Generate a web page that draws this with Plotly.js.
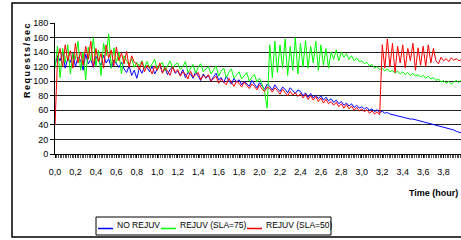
<!DOCTYPE html>
<html>
<head>
<meta charset="utf-8">
<script src="https://cdn.plot.ly/plotly-3.0.1.min.js"></script>
<style>
  html, body { margin: 0; padding: 0; background: #fff; }
  #chart { width: 461px; height: 240px; }
</style>
</head>
<body>
<div id="chart"></div>
<script>
// ---- data ----
const timeStep = 0.025; // hours between samples
const seriesNames = ["NO REJUV", "REJUV (SLA=75)", "REJUV (SLA=50)"];
const seriesColors = ["#0000ff", "#00ff00", "#ff0000"];
const xTickVals = [0,0.2,0.4,0.6,0.8,1.0,1.2,1.4,1.6,1.8,2.0,2.2,2.4,2.6,2.8,3.0,3.2,3.4,3.6,3.8];
const xTickText = ["0,0","0,2","0,4","0,6","0,8","1,0","1,2","1,4","1,6","1,8","2,0","2,2","2,4","2,6","2,8","3,0","3,2","3,4","3,6","3,8"];
const yTickVals = [0,20,40,60,80,100,120,140,160,180];

const noRejuv = [
  122,135,128,140,118,131,126,138,120,133,129,115,137,124,130,119,134,127,122,136,125,131,118,129,
  123,119,126,117,112,121,108,115,104,118,111,120,
  119,113,121,110,117,122,112,118,109,116,120,111,
  114,108,116,105,112,110,104,113,107,101,110,104,
  108,100,106,111,102,105,98,107,101,96,104,99,
  102,95,100,97,93,101,96,91,98,94,89,96,
  93,88,95,90,86,92,89,84,91,87,83,88,
  86,80,84,78,83,77,81,76,80,74,78,73,
  76,71,74,69,72,67,70,66,69,64,67,63,
  65,62,64,60,62,58,61,57,59,56,57,55,
  54,53,53,51,51,50,49,48,48,47,46,45,
  45,44,43,42,41,40,39,38,37,36,35,34,33,31,30,29
];
const rejuv75 = [
  118,148,105,145,125,150,110,138,130,155,115,140,102,147,128,160,120,143,108,152,135,165,118,146,125,140,110,135,
  128,122,131,119,126,121,128,118,
  127,118,124,130,116,122,126,114,121,128,117,123,
  125,116,120,127,112,118,123,111,119,124,113,117,
  120,110,116,121,107,114,118,105,112,117,104,109,
  113,103,108,112,100,106,109,99,104,96,85,63,
  150,105,155,112,150,118,158,108,148,115,160,110,
  152,120,156,118,148,125,155,115,150,122,145,118,
  140,130,143,128,140,133,138,130,135,128,132,127,
  128,124,126,121,123,118,120,116,118,114,117,113,
  115,111,114,110,113,109,112,108,111,107,109,106,
  108,104,107,103,105,101,103,99,101,97,100,96,99,101,98,102
];
const rejuv50 = [
  40,132,145,120,150,128,142,118,152,125,140,122,148,130,155,120,145,127,138,118,150,132,143,121,147,128,139,124,141,119,135,126,
  124,116,127,113,122,118,110,121,115,125,111,119,114,108,120,112,
  116,107,113,110,103,114,106,109,112,102,108,105,
  109,100,104,107,97,103,99,95,104,98,93,100,
  97,92,99,94,90,96,93,88,95,89,86,92,
  90,85,91,87,82,89,84,80,86,81,84,79,
  83,77,82,75,80,74,79,72,77,70,75,69,
  72,67,71,65,69,63,68,62,66,60,64,59,
  62,58,61,56,59,55,58,54,
  150,118,158,120,152,112,148,125,150,118,145,128,152,115,146,122,
  148,120,150,125,145,128,124,133,128,131,127,132,129,131,128,130
];

const allSeries = [noRejuv, rejuv75, rejuv50];

// ---- geometry helpers (pixel -> paper) ----
const W = 461, H = 240;
const M = {l: 55, r: 0, t: 23, b: 86};
const PW = W - M.l - M.r, PH = H - M.t - M.b;
const px = x => (x - M.l) / PW;
const py = y => (H - M.b - y) / PH;

const sans = '"Liberation Sans", Arial, sans-serif';

const traces = allSeries.map((vals, k) => ({
  type: 'scatter',
  mode: 'lines',
  name: seriesNames[k],
  x: vals.map((v, i) => i * timeStep),
  y: vals,
  line: {color: seriesColors[k], width: 1},
  hoverinfo: 'skip'
}));

const shapes = [
  {type: 'rect', xref: 'paper', yref: 'paper', x0: px(12), x1: px(475), y0: py(237), y1: py(3),
   line: {color: '#000', width: 1.5}, layer: 'below'},
  {type: 'rect', xref: 'paper', yref: 'paper', x0: px(96), x1: px(331), y0: py(235), y1: py(217),
   line: {color: '#000', width: 1}}
];
const legendX = [[98, 113, 115], [161, 176, 178], [247, 262, 264]];
const annotations = [];
legendX.forEach((lx, k) => {
  shapes.push({type: 'line', xref: 'paper', yref: 'paper', x0: px(lx[0]), x1: px(lx[1]), y0: py(228.5), y1: py(228.5),
    line: {color: seriesColors[k], width: 1.5}});
  annotations.push({xref: 'paper', yref: 'paper', x: px(lx[2]), y: py(225.5), xanchor: 'left', yanchor: 'middle',
    text: seriesNames[k], showarrow: false, font: {family: sans, size: 8.5, color: '#000'}});
});
annotations.push({xref: 'paper', yref: 'paper', x: px(27), y: py(60), xanchor: 'center', yanchor: 'middle',
  text: '<b>Requests/sec</b>', textangle: -90, showarrow: false, font: {family: sans, size: 9, color: '#000'}});
annotations.push({xref: 'paper', yref: 'paper', x: px(460), y: py(193), xanchor: 'right', yanchor: 'middle',
  text: '<b>Time (hour)</b>', showarrow: false, font: {family: sans, size: 9, color: '#000'}});

const layout = {
  width: W, height: H,
  margin: M,
  paper_bgcolor: '#fff', plot_bgcolor: '#fff',
  showlegend: false,
  xaxis: {
    range: [0, 3.97], tickvals: xTickVals, ticktext: xTickText,
    ticks: 'outside', ticklen: 3, tickcolor: '#000', tickwidth: 1,
    minor: {dtick: 1/60, ticks: 'outside', ticklen: 3, tickcolor: '#222', tickwidth: 0.8, showgrid: false},
    showgrid: false, zeroline: false, showline: true, linecolor: '#000', linewidth: 1,
    tickfont: {family: sans, size: 9, color: '#000'}, ticklabelstandoff: 6
  },
  yaxis: {
    range: [0, 180], tickvals: yTickVals,
    ticks: 'outside', ticklen: 4, tickcolor: '#000',
    showgrid: true, gridcolor: '#222', gridwidth: 1,
    zeroline: false, showline: true, linecolor: '#000', linewidth: 1,
    tickfont: {family: sans, size: 9, color: '#000'}
  },
  shapes: shapes,
  annotations: annotations
};

Plotly.newPlot('chart', traces, layout, {staticPlot: true, displayModeBar: false}).then(() => {
  document.querySelectorAll('.annotation-text').forEach(t => {
    if (t.textContent === 'Requests/sec') t.style.letterSpacing = '1.5px';
  });
});
</script>
</body>
</html>
